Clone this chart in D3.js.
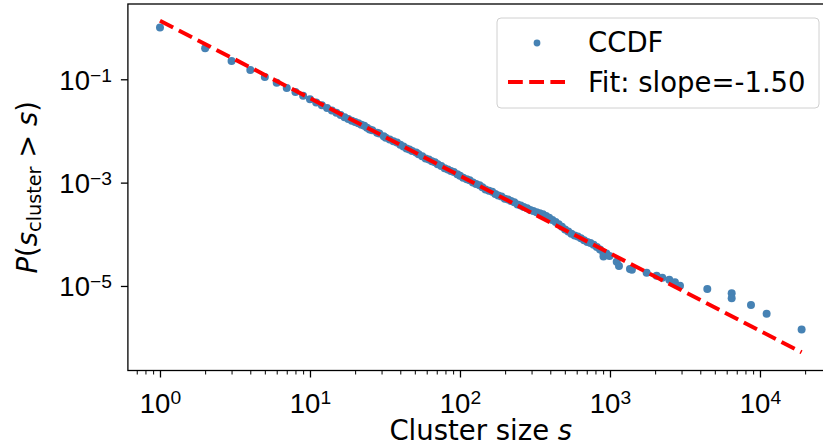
<!doctype html>
<html lang="en">
  <head>
    <meta charset="UTF-8" />
    <title>Cluster size CCDF</title>
    <script src="https://cdn.jsdelivr.net/npm/d3@7"></script>
    <style>
      body {
        margin: 0;
        background: #fff;
      }
      svg {
        font-family: 'DejaVu Sans', sans-serif;
      }
      .axis path {
        stroke: none;
      }
      .axis line {
        stroke: #000;
      }
    </style>
  </head>
  <body>
    <svg id="chart" width="823" height="445"></svg>
    <script>
      // CCDF points: cluster size s and P(s_cluster > s)
      const sizes = [
        1, 2, 3, 4, 5, 6, 7, 8, 9, 10, 11, 12, 13, 14, 15, 16, 17, 18, 19, 20,
        21, 22, 23, 24, 25, 26, 28, 29, 31, 32, 34, 36, 38, 40, 42, 44, 46, 48,
        51, 53, 56, 59, 62, 65, 68, 71, 75, 79, 83, 87, 91, 96, 100, 105, 111,
        116, 122, 128, 135, 141, 148, 156, 164, 172, 180, 189, 199, 209, 219,
        230, 242, 254, 266, 280, 294, 308, 324, 340, 357, 375, 393, 413, 434,
        455, 478, 502, 527, 553, 581, 610, 640, 672, 706, 741, 778, 817, 858,
        900, 905, 946, 993, 1109, 1148, 1359, 1400, 1756, 2047, 2233, 2486,
        2711, 2930, 4454, 6476, 6476, 8710, 11075, 18950,
      ];
      const ccdf = [
        1.0, 0.4, 0.225, 0.151, 0.111, 0.086, 0.068, 0.0565, 0.048, 0.041,
        0.0356, 0.0313, 0.0277, 0.0248, 0.0224, 0.0203, 0.0185, 0.0171, 0.0157,
        0.0149, 1.415e-2, 1.319e-2, 1.263e-2, 1.158e-2, 1.064e-2, 1.027e-2,
        9.19e-3, 8.92e-3, 7.89e-3, 7.35e-3, 6.87e-3, 6.3e-3, 5.95e-3, 5.38e-3,
        5.0e-3, 4.56e-3, 4.36e-3, 4.1e-3, 3.83e-3, 3.53e-3, 3.25e-3, 2.94e-3,
        2.79e-3, 2.6e-3, 2.48e-3, 2.28e-3, 2.1e-3, 1.89e-3, 1.8e-3, 1.68e-3,
        1.6e-3, 1.45e-3, 1.36e-3, 1.24e-3, 1.16e-3, 1.11e-3, 1.01e-3, 9.4e-4,
        8.88e-4, 8.13e-4, 7.39e-4, 6.99e-4, 6.63e-4, 6.03e-4, 5.64e-4, 5.36e-4,
        4.85e-4, 4.72e-4, 4.4e-4, 4.18e-4, 3.79e-4, 3.6e-4, 3.36e-4, 3.18e-4,
        2.96e-4, 2.83e-4, 2.68e-4, 2.55e-4, 2.43e-4, 2.25e-4, 2.1e-4, 1.9e-4,
        1.73e-4, 1.57e-4, 1.4e-4, 1.24e-4, 1.13e-4, 1.02e-4, 9.5e-5, 9.04e-5,
        8.41e-5, 7.63e-5, 7.09e-5, 6.75e-5, 6.27e-5, 5.7e-5, 5.06e-5, 4.49e-5,
        3.7e-5, 4.27e-5, 3.79e-5, 2.95e-5, 2.44e-5, 2.13e-5, 2.05e-5, 1.81e-5,
        1.58e-5, 1.45e-5, 1.32e-5, 1.18e-5, 1.01e-5, 8.7e-6, 7.2e-6, 5.8e-6,
        4.3e-6, 2.9e-6, 1.43e-6,
      ];

      // power-law fit, two end points
      const fitSizes = [1, 18950];
      const fitValues = [1.36, 5.2e-7];

      const xMajorExps = [0, 1, 2, 3, 4];
      const yMajorExps = [-1, -3, -5];
      const legendLabels = ['CCDF', 'Fit: slope=-1.50'];

      const pointColor = '#4682b4';
      const fitColor = '#ff0000';
      const fontSize = 27.5;

      const svg = d3.select('#chart');

      const x = d3
        .scaleLog()
        .domain([10 ** -0.2139, 10 ** 4.4915])
        .range([127.9, 833.7]);
      const y = d3
        .scaleLog()
        .domain([10 ** -6.636, 10 ** 0.457])
        .range([370.5, 4]);

      const [x0, x1] = x.range();
      const [y1, y0] = y.range();

      // minor ticks on x: 2..9 within each decade, clipped to the domain
      const xMinor = [];
      for (let e = -1; e <= 4; e++) {
        for (let m = 2; m <= 9; m++) {
          const v = m * 10 ** e;
          if (v >= x.domain()[0] && v <= x.domain()[1]) xMinor.push(v);
        }
      }

      // superscript tick labels like 10^-3
      function powLabel(sel, exp) {
        sel.append('tspan').text('10');
        sel
          .append('tspan')
          .attr('dy', '-0.42em')
          .attr('font-size', '0.7em')
          .text(exp < 0 ? '\u2212' + -exp : String(exp));
      }

      // x axis ticks
      svg
        .append('g')
        .attr('class', 'axis')
        .attr('transform', `translate(0,${y1})`)
        .call(d3.axisBottom(x).tickValues(xMinor).tickSize(4).tickFormat(''))
        .selectAll('line')
        .attr('stroke-width', 1);

      const xMajor = svg
        .append('g')
        .attr('class', 'axis')
        .attr('transform', `translate(0,${y1})`)
        .call(
          d3
            .axisBottom(x)
            .tickValues(xMajorExps.map((e) => 10 ** e))
            .tickSize(7)
            .tickFormat(''),
        );
      xMajor.selectAll('line').attr('stroke-width', 1.3);
      xMajor
        .selectAll('.tick')
        .append('text')
        .attr('y', 42)
        .attr('text-anchor', 'middle')
        .attr('fill', '#000')
        .attr('font-size', fontSize)
        .each(function (d) {
          powLabel(d3.select(this), Math.round(Math.log10(d)));
        });

      // y axis ticks
      const yMajor = svg
        .append('g')
        .attr('class', 'axis')
        .attr('transform', `translate(${x0},0)`)
        .call(
          d3
            .axisLeft(y)
            .tickValues(yMajorExps.map((e) => 10 ** e))
            .tickSize(7)
            .tickFormat(''),
        );
      yMajor.selectAll('line').attr('stroke-width', 1.3);
      yMajor
        .selectAll('.tick')
        .append('text')
        .attr('x', -16)
        .attr('y', 10)
        .attr('text-anchor', 'end')
        .attr('fill', '#000')
        .attr('font-size', fontSize)
        .each(function (d) {
          powLabel(d3.select(this), Math.round(Math.log10(d)));
        });

      // data points
      svg
        .append('g')
        .selectAll('circle')
        .data(sizes.map((s, i) => [s, ccdf[i]]))
        .join('circle')
        .attr('cx', (d) => x(d[0]))
        .attr('cy', (d) => y(d[1]))
        .attr('r', 4)
        .attr('fill', pointColor);

      // fit line
      svg
        .append('path')
        .datum(fitSizes.map((s, i) => [s, fitValues[i]]))
        .attr('fill', 'none')
        .attr('stroke', fitColor)
        .attr('stroke-width', 4)
        .attr('stroke-dasharray', '14.8 6.4')
        .attr(
          'd',
          d3
            .line()
            .x((d) => x(d[0]))
            .y((d) => y(d[1])),
        );

      // spines
      svg
        .append('rect')
        .attr('x', x0)
        .attr('y', y0)
        .attr('width', x1 - x0)
        .attr('height', y1 - y0)
        .attr('fill', 'none')
        .attr('stroke', '#000')
        .attr('stroke-width', 1.3);

      // axis titles
      svg
        .append('text')
        .attr('x', (x0 + x1) / 2)
        .attr('y', 440)
        .attr('text-anchor', 'middle')
        .attr('font-size', fontSize)
        .call((t) => {
          t.append('tspan').text('Cluster size ');
          t.append('tspan').attr('font-style', 'italic').text('s');
        });

      svg
        .append('text')
        .attr('transform', `translate(37,${(y0 + y1) / 2}) rotate(-90)`)
        .attr('text-anchor', 'middle')
        .attr('font-size', fontSize)
        .call((t) => {
          t.append('tspan').attr('font-style', 'italic').text('P');
          t.append('tspan').text('(');
          t.append('tspan').attr('font-style', 'italic').text('s');
          t.append('tspan')
            .attr('dy', '0.2em')
            .attr('font-size', '0.7em')
            .text('cluster');
          t.append('tspan').attr('dy', '-0.14em').text(' > ');
          t.append('tspan').attr('font-style', 'italic').text('s');
          t.append('tspan').text(')');
        });

      // legend
      const legend = svg.append('g');
      legend
        .append('rect')
        .attr('x', 497)
        .attr('y', 18)
        .attr('width', 322)
        .attr('height', 90)
        .attr('rx', 4)
        .attr('fill', '#fff')
        .attr('fill-opacity', 0.8)
        .attr('stroke', '#d0d0d0')
        .attr('stroke-width', 1);
      legend
        .append('circle')
        .attr('cx', 537)
        .attr('cy', 43)
        .attr('r', 3.4)
        .attr('fill', pointColor);
      legend
        .append('line')
        .attr('x1', 508)
        .attr('x2', 565)
        .attr('y1', 82)
        .attr('y2', 82)
        .attr('stroke', fitColor)
        .attr('stroke-width', 4)
        .attr('stroke-dasharray', '14.8 6.4');
      legend
        .selectAll('text')
        .data(legendLabels)
        .join('text')
        .attr('x', 588)
        .attr('y', (d, i) => 52 + i * 40)
        .attr('font-size', fontSize)
        .attr('fill', '#000')
        .text((d) => d);
    </script>
  </body>
</html>
